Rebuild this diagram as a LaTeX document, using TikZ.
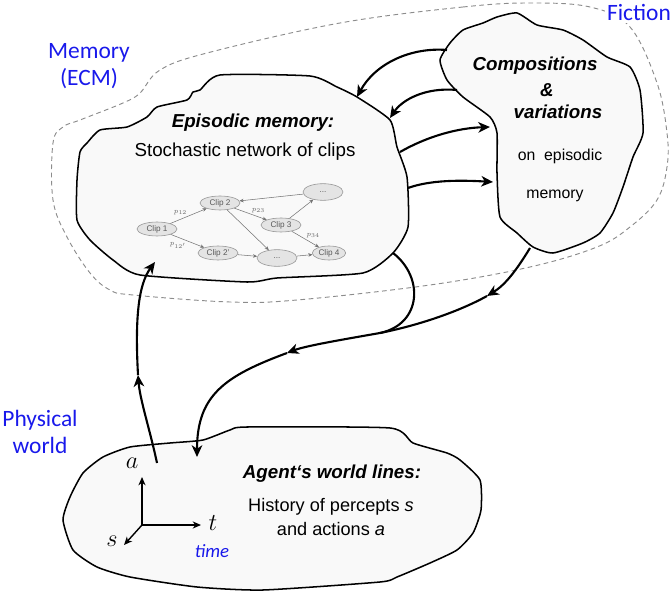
\documentclass[tikz,border=0pt]{standalone}
\usepackage{fontspec}
\setmainfont{Liberation Sans}
\newfontfamily\calfont{Carlito}
\usepackage{xcolor}
\usetikzlibrary{arrows.meta, shapes.geometric, positioning}

\definecolor{ecmblue}{RGB}{25,25,235}
\definecolor{blobfill}{RGB}{249,249,249}
\definecolor{clipfill}{RGB}{228,228,228}
\definecolor{clipline}{RGB}{150,150,150}

\tikzset{
  blob/.style={draw=black, line width=1.3pt, fill=blobfill, line join=round},
  region/.style={draw=black!45, line width=0.8pt, dash pattern=on 4pt off 3pt},
  flow/.style={line width=1.8pt, -{Stealth[length=10pt,width=9pt,inset=3pt]}},
  flowline/.style={line width=1.8pt},
  axis/.style={line width=1.2pt, -{Stealth[length=7pt,width=6pt,inset=2pt]}},
  bluelabel/.style={text=ecmblue, font=\calfont\fontsize{20}{23}\selectfont, align=center},
  headline/.style={font=\bfseries\itshape\fontsize{16}{19}\selectfont},
  bodyline/.style={font=\fontsize{16}{19}\selectfont},
  smallline/.style={font=\fontsize{13.5}{16}\selectfont},
  clipnode/.style={ellipse, draw=clipline, fill=clipfill, line width=0.5pt,
    minimum width=1.2cm, minimum height=0.42cm, inner sep=0pt,
    font=\fontsize{7}{8}\selectfont, text=black!65},
  clipedge/.style={draw=black!55, line width=0.45pt, -{Stealth[length=3.5pt,width=3pt]}},
  plabel/.style={font=\fontsize{6.5}{7}\selectfont, text=black!60, inner sep=1pt}
}

\begin{document}
\begin{tikzpicture}[x=0.03cm, y=-0.03cm]
\useasboundingbox (0,0) rectangle (672,596);

% ECM region (dashed)
\draw[region] plot[smooth cycle, tension=0.6] coordinates {(340,23) (463,7) (530,3) (590,7) (630,27) (657,83) (667,133) (667,167) (657,200) (630,227) (597,247) (530,267) (430,285) (297,300) (230,302) (133,295) (110,290) (90,273) (67,237) (53,200) (53,143) (63,127) (80,120) (123,103) (140,93) (160,70) (207,53)};

% Blobs
\draw[blob] plot[smooth cycle, tension=0.35] coordinates {(77,180) (80,152) (87,143) (100,130) (127,127) (147,117) (157,107) (187,100) (193,92) (200,90) (220,75) (310,76) (337,87) (357,97) (390,120) (397,147) (407,177) (408,227) (393,253) (363,273) (277,278) (247,282) (140,275) (113,260) (90,240) (77,220)};
\draw[blob] plot[smooth cycle, tension=0.35] coordinates {(497,17) (517,13) (537,25) (563,30) (583,40) (607,57) (630,67) (640,90) (643,133) (633,157) (623,187) (613,213) (600,233) (583,243) (553,253) (533,247) (517,233) (500,217) (497,173) (497,133) (490,117) (463,97) (447,80) (440,60) (450,43) (463,30) (483,23)};
\draw[blob] plot[smooth cycle, tension=0.35] coordinates {(63,520) (70,497) (83,473) (103,457) (130,447) (170,443) (203,440) (230,430) (247,427) (390,428) (413,443) (447,453) (460,460) (480,480) (481,510) (473,533) (457,550) (430,563) (397,577) (380,582) (263,590) (197,587) (130,577) (97,567) (73,550)};

% Region labels
\node[bluelabel] (memlabel) at (89,66) {Memory\\(ECM)};
\node[bluelabel, fill=white, inner sep=2pt] (fiction) at (639,12) {Fiction};
\node[bluelabel] (physlabel) at (40,432) {Physical\\world};

% Episodic memory text
\node[headline] (epihead) at (253,123) {Episodic memory:};
\node[bodyline] (episub) at (245,152) {Stochastic network of clips};

% Clip network
\node[clipnode] (c1) at (157,229) {Clip 1};
\node[clipnode] (c2) at (220,203) {Clip 2};
\node[clipnode] (c3) at (281,225) {Clip 3};
\node[clipnode] (c2b) at (218,253) {Clip 2'};
\node[clipnode, minimum height=0.5cm] (dtop) at (323,192) {...};
\node[clipnode, minimum height=0.5cm] (dbot) at (277,258) {...};
\node[clipnode, minimum width=1.0cm] (c4) at (329,253) {Clip 4};
\draw[clipedge] (c1) -- node[plabel, above left] {$p_{12}$} (c2);
\draw[clipedge] (c1) -- node[plabel, below left] {$p_{12'}$} (c2b);
\draw[clipedge] (c2) -- node[plabel, above right] {$p_{23}$} (c3);
\draw[clipedge] (c2) -- (dbot);
\draw[clipedge] (c2b) -- (dbot);
\draw[clipedge] (dbot) -- (c4);
\draw[clipedge] (c3) -- node[plabel, above right] {$p_{34}$} (c4);
\draw[clipedge] (c3) -- (dtop);
\draw[clipedge] (dtop) -- (c2);

% Compositions text
\node[headline] (comp1) at (535,66) {Compositions};
\node[headline] (comp2) at (547,90) {\&};
\node[headline] (comp3) at (558,112) {variations};
\node[smallline] (comp4) at (560,156) {on\ \ episodic};
\node[smallline] (comp5) at (555,196) {memory};

% Agent text
\node[headline] (agenthead) at (332,474) {Agent‘s world lines:};
\node[bodyline, font=\fontsize{15.5}{18}\selectfont] (agent1) at (331,507) {History of percepts \textit{s}};
\node[bodyline, font=\fontsize{15.5}{18}\selectfont] (agent2) at (331,529) {and actions \textit{a}};

% Time axes
\coordinate (orig) at (142,525);
\coordinate (ax-a) at (142,477);
\coordinate (ax-t) at (201,525);
\coordinate (ax-s) at (124,545);
\draw[axis] (orig) -- (ax-a);
\draw[axis] (orig) -- (ax-t);
\draw[axis] (orig) -- (ax-s);
\node[font=\fontsize{20}{22}\selectfont] (lab-a) at (132,463) {$a$};
\node[font=\fontsize{20}{22}\selectfont] (lab-t) at (213,523) {$t$};
\node[font=\fontsize{20}{22}\selectfont] (lab-s) at (112,541) {$s$};
\node[text=ecmblue, font=\calfont\itshape\fontsize{16}{18}\selectfont] (timelabel) at (212,551) {time};

% Connector end points
\coordinate (comp-l1) at (447,50);
\coordinate (epi-t1) at (357,97);
\coordinate (comp-l2) at (457,90);
\coordinate (epi-t2) at (390,118);
\coordinate (epi-r1) at (400,152);
\coordinate (comp-in1) at (490,127);
\coordinate (epi-r2) at (408,188);
\coordinate (comp-in2) at (493,182);
\coordinate (epi-b) at (393,253);
\coordinate (comp-b) at (530,248);
\coordinate (comp-mid) at (487,296);
\coordinate (join) at (380,333);
\coordinate (down-mid) at (287,353);
\coordinate (agent-in) at (197,457);
\coordinate (agent-out) at (157,463);
\coordinate (up-mid) at (138,375);
\coordinate (epi-in) at (155,262);

% Flows between compositions and episodic memory
\draw[flow] (comp-l1) .. controls (410,47) and (375,64) .. (epi-t1);
\draw[flow] (comp-l2) .. controls (425,87) and (402,100) .. (epi-t2);
\draw[flow] (epi-r1) .. controls (428,136) and (458,128) .. (comp-in1);
\draw[flow] (epi-r2) .. controls (430,180) and (460,180) .. (comp-in2);

% Flows down to the agent
\draw[flowline] (epi-b) .. controls (424,277) and (422,324) .. (join);
\draw[flow] (comp-b) .. controls (516,271) and (505,285) .. (comp-mid);
\draw[flowline] (comp-mid) .. controls (460,311) and (420,325) .. (join);
\draw[flow] (join) .. controls (340,340) and (305,346) .. (down-mid);
\draw[flow] (down-mid) .. controls (225,376) and (197,395) .. (agent-in);

% Flow up from the agent
\draw[flow] (agent-out) .. controls (150,430) and (140,400) .. (up-mid);
\draw[flow] (up-mid) .. controls (135,320) and (138,285) .. (epi-in);
\end{tikzpicture}
\end{document}
